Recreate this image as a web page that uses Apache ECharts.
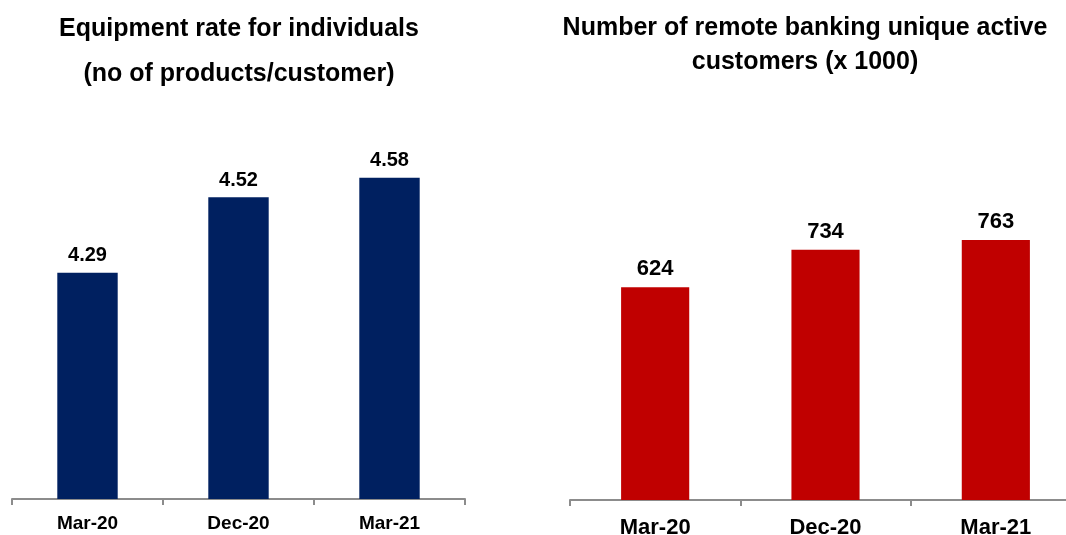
<!DOCTYPE html>
<html>
<head>
<meta charset="utf-8">
<script src="https://cdn.jsdelivr.net/npm/echarts@6/dist/echarts.min.js"></script>
<style>html,body{margin:0;padding:0;background:#fff;}#c{width:1066px;height:535px;}</style>
</head>
<body>
<div id="c"></div>
<script>
const categories = ['Mar-20', 'Dec-20', 'Mar-21'];
const equipmentRate = [4.29, 4.52, 4.58];
const remoteCustomers = [624, 734, 763];
const leftTitle = 'Equipment rate for individuals\n(no of products/customer)';
const rightTitle = 'Number of remote banking unique active\ncustomers (x 1000)';

const FONT = '"Liberation Sans", Arial, sans-serif';
const chart = echarts.init(document.getElementById('c'));
const axisGray = '#8c8c8c';

function xAxisCfg(gridIndex, fontSize, margin) {
  return {
    type: 'category', gridIndex: gridIndex, data: categories,
    axisLine: { show: true, lineStyle: { color: axisGray, width: 2 } },
    axisTick: { show: true, length: 6, lineStyle: { color: axisGray, width: 2 } },
    axisLabel: { color: '#000', fontFamily: FONT, fontWeight: 'bold', fontSize: fontSize, margin: margin }
  };
}

chart.setOption({
  animation: false,
  backgroundColor: '#fff',
  title: [
    { text: leftTitle, left: 234, top: 2, textAlign: 'center',
      textStyle: { fontFamily: FONT, fontWeight: 'bold', fontSize: 25, lineHeight: 45, color: '#000' } },
    { text: rightTitle, left: 800, top: 6, textAlign: 'center',
      textStyle: { fontFamily: FONT, fontWeight: 'bold', fontSize: 25, lineHeight: 34, color: '#000' } }
  ],
  grid: [
    { left: 12, width: 453, top: 40, height: 459, outerBoundsMode: 'none', containLabel: false },
    { left: 570, width: 511, top: 91, height: 409, outerBoundsMode: 'none', containLabel: false }
  ],
  xAxis: [ xAxisCfg(0, 19, 15), xAxisCfg(1, 22, 17) ],
  yAxis: [
    { type: 'value', gridIndex: 0, min: 3.6, max: 5.0, show: false, splitLine: { show: false } },
    { type: 'value', gridIndex: 1, min: 0, max: 1200, show: false, splitLine: { show: false } }
  ],
  series: [
    { type: 'bar', xAxisIndex: 0, yAxisIndex: 0, data: equipmentRate, barWidth: '40%',
      itemStyle: { color: '#002060' },
      label: { show: true, position: 'top', distance: 7, color: '#000', fontFamily: FONT, fontWeight: 'bold', fontSize: 20,
        formatter: p => p.value.toFixed(2) } },
    { type: 'bar', xAxisIndex: 1, yAxisIndex: 1, data: remoteCustomers, barWidth: '40%',
      itemStyle: { color: '#C00000' },
      label: { show: true, position: 'top', distance: 7, color: '#000', fontFamily: FONT, fontWeight: 'bold', fontSize: 22 } }
  ]
});
</script>
</body>
</html>
